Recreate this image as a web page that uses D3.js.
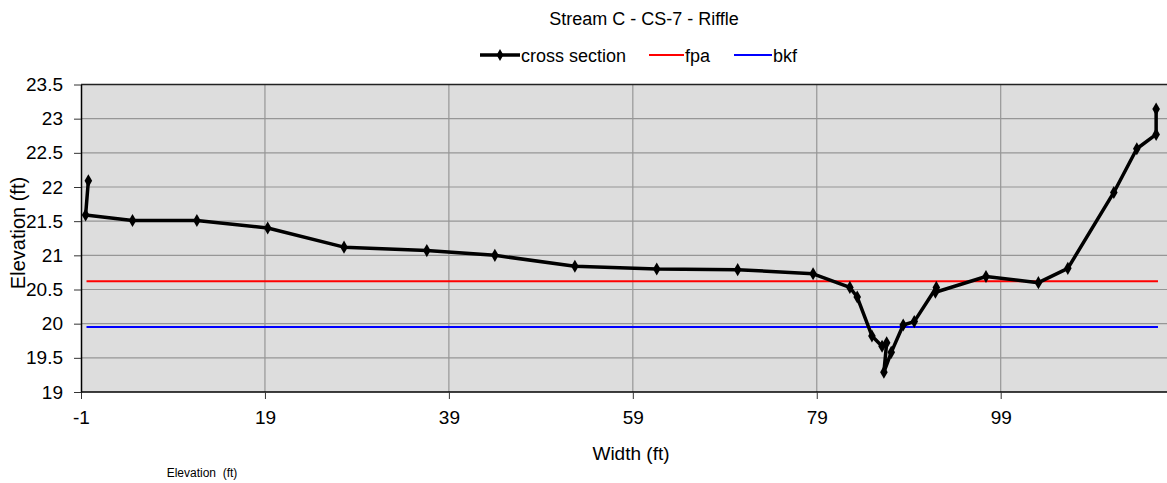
<!DOCTYPE html>
<html>
<head>
<meta charset="utf-8">
<script src="https://cdn.jsdelivr.net/npm/d3@7"></script>
<style>
  body { margin: 0; background: #fff; }
  text { font-family: "Liberation Sans", Arial, sans-serif; fill: #000; }
</style>
</head>
<body>
<script>
/******************************************************************************/
/* DATA                                                                       */
/******************************************************************************/
var widthFt = [-0.2, -0.5, 4.6, 11.6, 19.3, 27.6, 36.6, 44.0, 52.7, 61.6, 70.4,
  78.6, 82.6, 83.4, 85.0, 86.1, 86.6, 86.3, 87.1, 88.4, 89.6, 92.0, 91.9,
  97.4, 103.1, 106.3, 111.3, 113.8, 115.9, 115.9];
var elevFt = [22.09, 21.59, 21.51, 21.51, 21.40, 21.12, 21.07, 21.00, 20.84,
  20.80, 20.79, 20.73, 20.53, 20.39, 19.82, 19.67, 19.72, 19.29, 19.58, 19.98,
  20.03, 20.53, 20.46, 20.69, 20.60, 20.81, 21.92, 22.56, 22.77, 23.14];
var fpaX = [-0.4, 116.1];
var fpaY = [20.62, 20.62];
var bkfX = [-0.4, 116.1];
var bkfY = [19.95, 19.95];
var xTicks = [-1, 19, 39, 59, 79, 99];
var xGrid = [19, 39, 59, 79, 99, 119];
var yTicks = [19, 19.5, 20, 20.5, 21, 21.5, 22, 22.5, 23, 23.5];

/******************************************************************************/
/* GLOBAL                                                                     */
/******************************************************************************/
var width  = 1167;
var height = 483;
var plotLeft = 81, plotTop = 84.5, plotBottom = 392;

var x = d3.scaleLinear().domain([-1, 99]).range([plotLeft, 1000.7]);
var y = d3.scaleLinear().domain([19, 23.5]).range([plotBottom, plotTop]);

var svg = d3.select('body')
  .append('svg')
  .attr('width', width)
  .attr('height', height);

/******************************************************************************/
/* PLOT AREA                                                                  */
/******************************************************************************/
svg.append('rect')
  .attr('x', plotLeft)
  .attr('y', plotTop)
  .attr('width', x(119) - plotLeft)
  .attr('height', plotBottom - plotTop)
  .attr('fill', '#dddddd');

// grid
svg.append('g').selectAll('line')
  .data(yTicks.slice(1, -1))
  .enter().append('line')
  .attr('x1', plotLeft).attr('x2', x(119))
  .attr('y1', function(d) { return y(d); })
  .attr('y2', function(d) { return y(d); })
  .attr('stroke', '#969696').attr('stroke-width', 1.2);

svg.append('g').selectAll('line')
  .data(xGrid)
  .enter().append('line')
  .attr('x1', function(d) { return x(d); })
  .attr('x2', function(d) { return x(d); })
  .attr('y1', plotTop).attr('y2', plotBottom)
  .attr('stroke', '#969696').attr('stroke-width', 1.2);

// top border
svg.append('line')
  .attr('x1', plotLeft).attr('x2', width)
  .attr('y1', plotTop).attr('y2', plotTop)
  .attr('stroke', '#222').attr('stroke-width', 1.5);

/******************************************************************************/
/* AXES                                                                       */
/******************************************************************************/
var xAxis = svg.append('g')
  .attr('transform', 'translate(0,' + plotBottom + ')')
  .call(d3.axisBottom(x).tickValues(xTicks).tickSizeInner(7).tickSizeOuter(0)
    .tickPadding(12).tickFormat(function(d) { return String(d); }));
xAxis.select('.domain').attr('stroke', '#000').attr('stroke-width', 1.5)
  .attr('d', 'M' + plotLeft + ',0H' + width);
xAxis.selectAll('.tick line').attr('stroke', '#333');
xAxis.selectAll('text').attr('font-size', 19).attr('font-family', 'Liberation Sans, Arial');

var yAxis = svg.append('g')
  .attr('transform', 'translate(' + plotLeft + ',0)')
  .call(d3.axisLeft(y).tickValues(yTicks).tickSizeInner(7).tickSizeOuter(0)
    .tickPadding(11).tickFormat(function(d) { return String(d); }));
yAxis.select('.domain').attr('stroke', '#000').attr('stroke-width', 1.5);
yAxis.selectAll('.tick line').attr('stroke', '#333');
yAxis.selectAll('text').attr('font-size', 19).attr('font-family', 'Liberation Sans, Arial');

/******************************************************************************/
/* SERIES                                                                     */
/******************************************************************************/
var line = d3.line()
  .x(function(d) { return x(d[0]); })
  .y(function(d) { return y(d[1]); });

svg.append('path')
  .datum(d3.zip(fpaX, fpaY))
  .attr('d', line).attr('fill', 'none')
  .attr('stroke', '#ff0000').attr('stroke-width', 2);

svg.append('path')
  .datum(d3.zip(bkfX, bkfY))
  .attr('d', line).attr('fill', 'none')
  .attr('stroke', '#0000ff').attr('stroke-width', 2);

var xs = d3.zip(widthFt, elevFt);
svg.append('path')
  .datum(xs)
  .attr('d', line).attr('fill', 'none')
  .attr('stroke', '#000').attr('stroke-width', 3.5)
  .attr('stroke-linejoin', 'round');

var diamond = d3.symbol().type(d3.symbolDiamond).size(50);
svg.append('g').selectAll('path')
  .data(xs)
  .enter().append('path')
  .attr('d', diamond)
  .attr('transform', function(d) { return 'translate(' + x(d[0]) + ',' + y(d[1]) + ')'; })
  .attr('fill', '#000');

/******************************************************************************/
/* TEXT & LEGEND                                                              */
/******************************************************************************/
svg.append('text')
  .attr('x', 644).attr('y', 25)
  .attr('text-anchor', 'middle').attr('font-size', 18)
  .text('Stream C - CS-7 - Riffle');

var legend = [
  {name: 'cross section', color: '#000', x1: 480, x2: 520, w: 3.5, marker: true},
  {name: 'fpa', color: '#ff0000', x1: 649, x2: 684, w: 2, marker: false},
  {name: 'bkf', color: '#0000ff', x1: 734, x2: 772, w: 2, marker: false}
];
var lg = svg.append('g').selectAll('g').data(legend).enter().append('g');
lg.append('line')
  .attr('x1', function(d) { return d.x1; })
  .attr('x2', function(d) { return d.x2; })
  .attr('y1', 55).attr('y2', 55)
  .attr('stroke', function(d) { return d.color; })
  .attr('stroke-width', function(d) { return d.w; });
lg.filter(function(d) { return d.marker; }).append('path')
  .attr('d', d3.symbol().type(d3.symbolDiamond).size(40))
  .attr('transform', function(d) { return 'translate(' + (d.x1 + d.x2) / 2 + ',55)'; })
  .attr('fill', '#000');
lg.append('text')
  .attr('x', function(d) { return d.x2 + 1; })
  .attr('y', 61.5)
  .attr('font-size', 18)
  .text(function(d) { return d.name; });

svg.append('text')
  .attr('x', 631).attr('y', 460)
  .attr('text-anchor', 'middle').attr('font-size', 19)
  .text('Width (ft)');

svg.append('text')
  .attr('transform', 'translate(25,233) rotate(-90)')
  .attr('text-anchor', 'middle').attr('font-size', 20)
  .text('Elevation (ft)');

svg.append('text')
  .attr('x', 202).attr('y', 477)
  .attr('text-anchor', 'middle').attr('font-size', 12)
  .attr('fill', '#222')
  .style('white-space', 'pre')
  .text('Elevation  (ft)');
</script>
</body>
</html>
